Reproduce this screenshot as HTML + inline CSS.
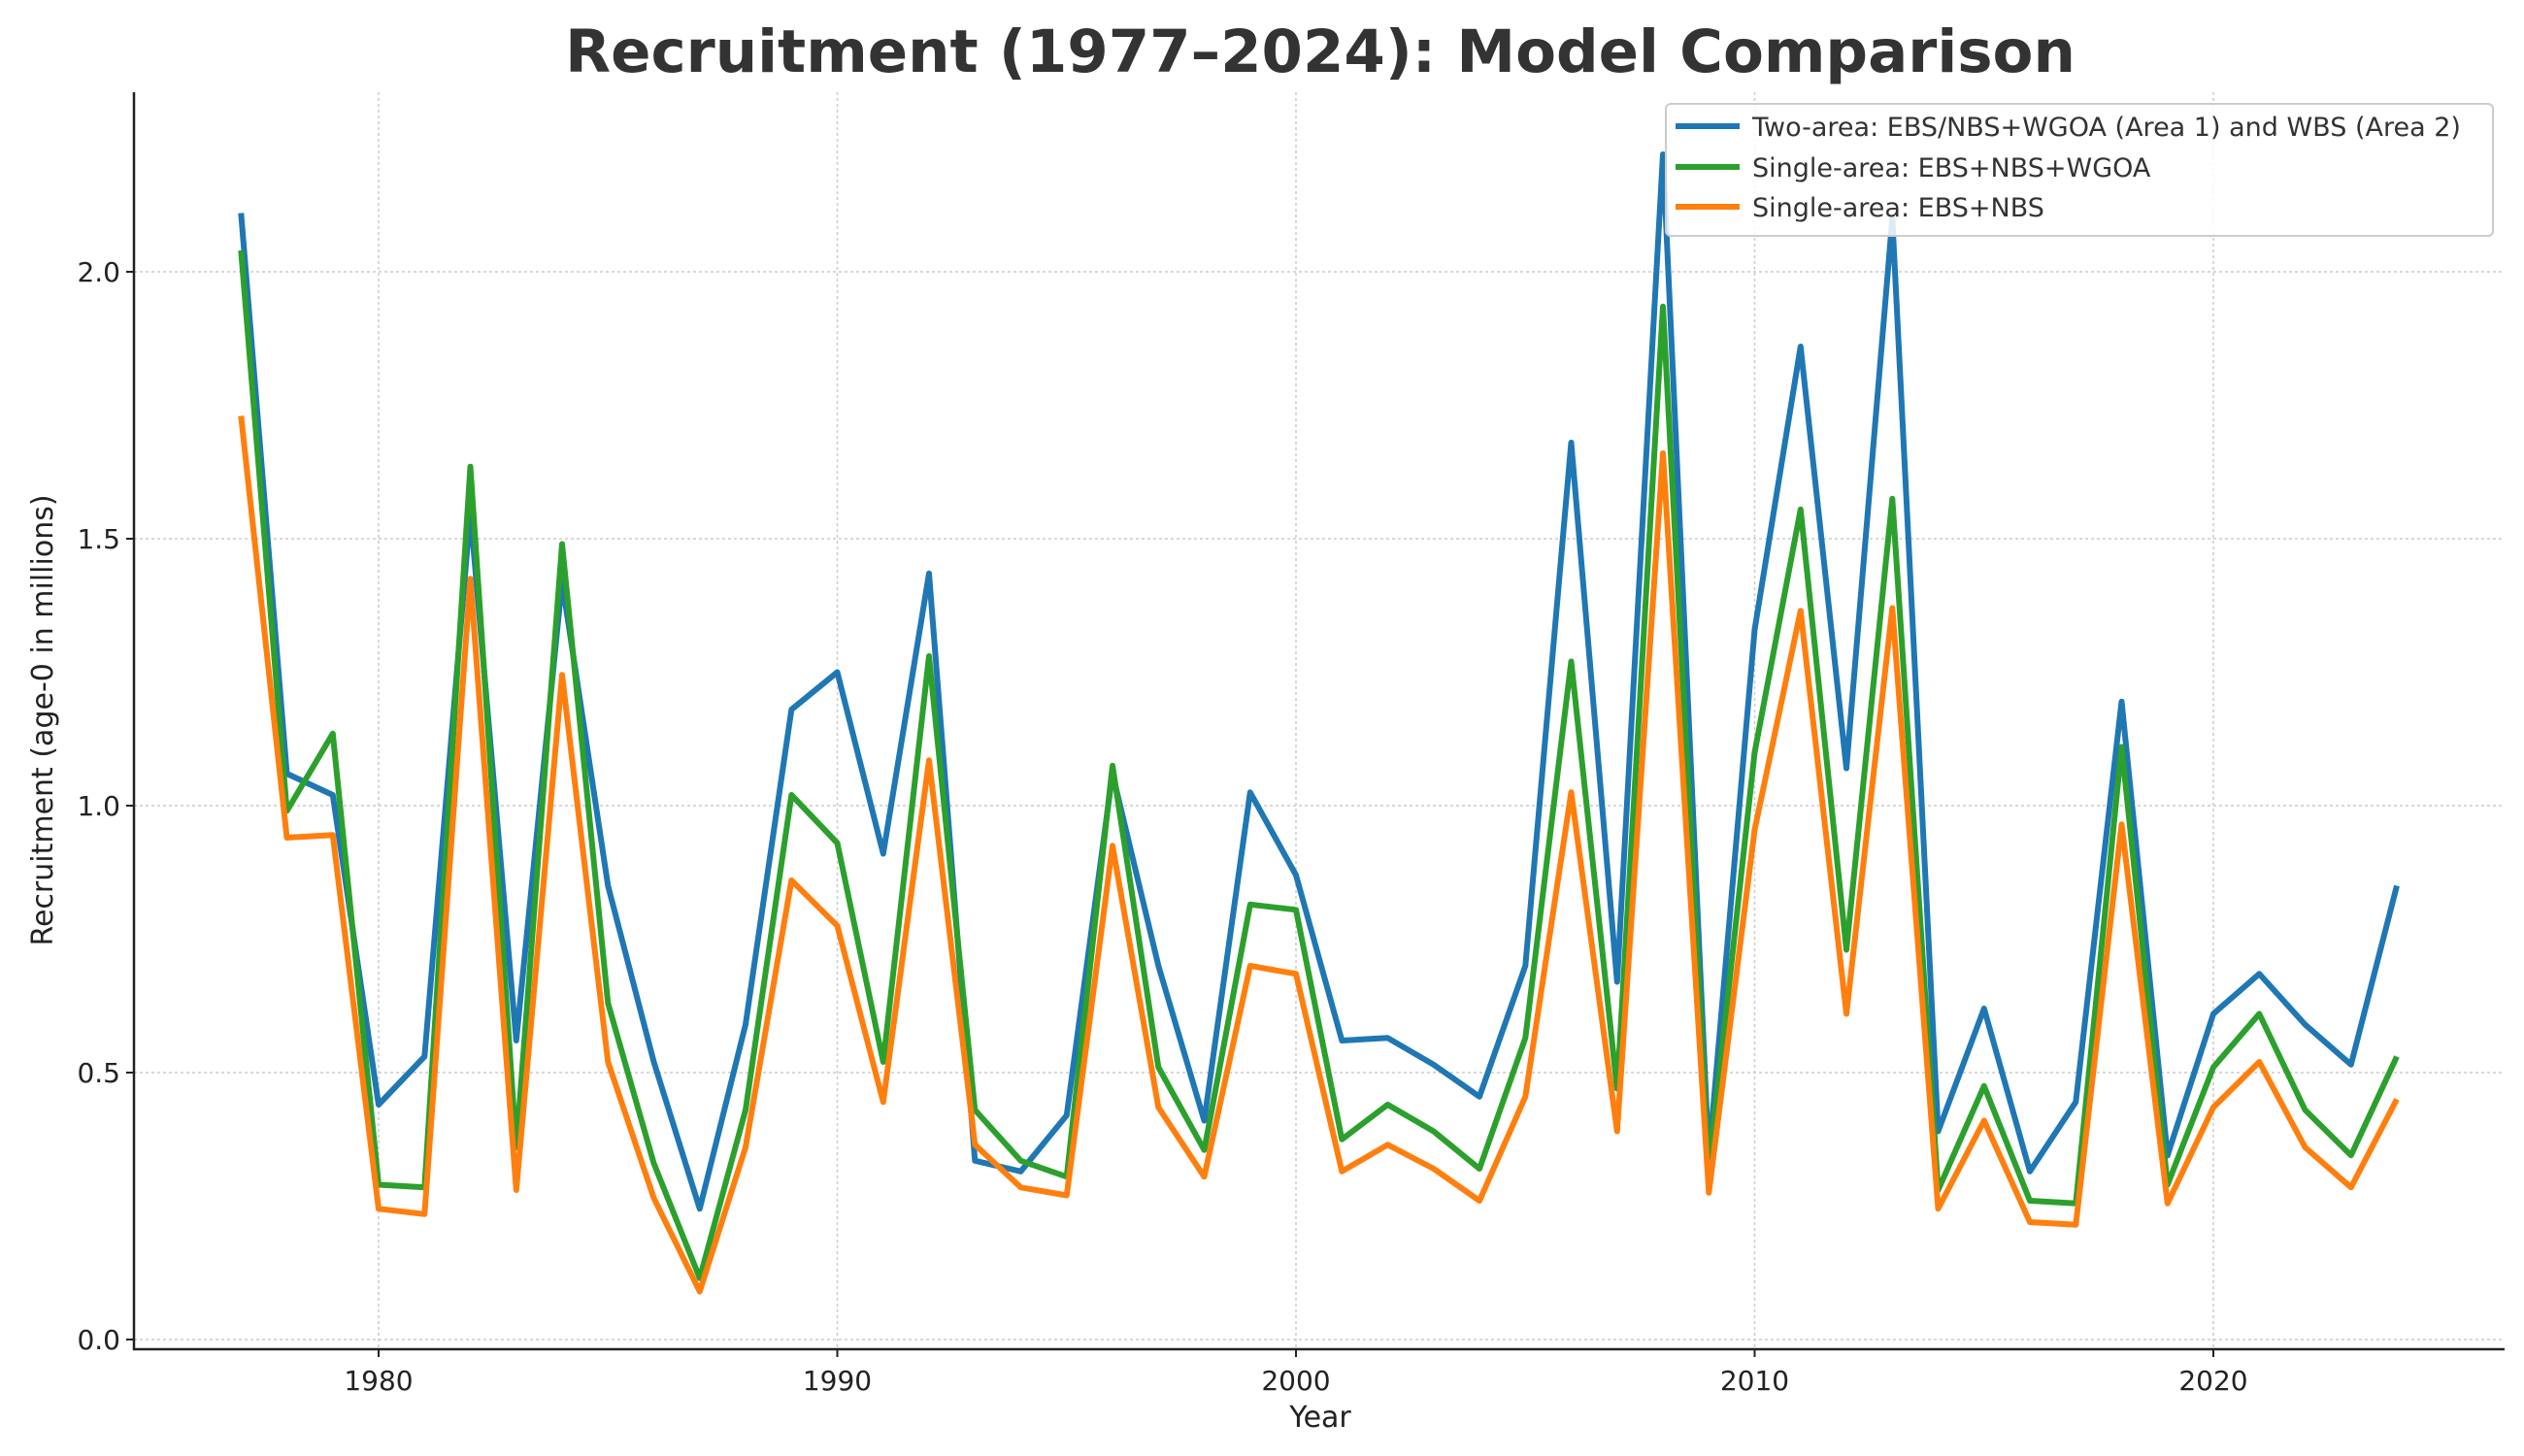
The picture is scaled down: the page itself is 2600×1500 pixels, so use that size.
<!DOCTYPE html>
<html><head><meta charset="utf-8"><style>
body{margin:0;background:#fff;}
svg{display:block;font-family:"DejaVu Sans","Liberation Sans",sans-serif;}
</style></head><body>
<svg id="chart" width="2600" height="1500" viewBox="0 0 2600 1500">
<rect width="2600" height="1500" fill="#fff"/>
<text x="1360" y="74" text-anchor="middle" font-size="61" font-weight="bold" fill="#333">Recruitment (1977–2024): Model Comparison</text>
<g id="grid"></g>
<g id="series"></g>
<g id="axes"></g>
<text x="1360" y="1470" text-anchor="middle" font-size="30" fill="#222">Year</text>
<text transform="translate(54,742) rotate(-90)" text-anchor="middle" font-size="30" fill="#222">Recruitment (age-0 in millions)</text>
<g>
<rect x="1716" y="107" width="852" height="136" rx="5" fill="#fff" fill-opacity="0.85" stroke="#ccc" stroke-width="2"/>
<line x1="1726" y1="130" x2="1792" y2="130" stroke="#1f77b4" stroke-width="6"/>
<text x="1805" y="140" font-size="27" fill="#333">Two-area: EBS/NBS+WGOA (Area 1) and WBS (Area 2)</text>
<line x1="1726" y1="172" x2="1792" y2="172" stroke="#2ca02c" stroke-width="6"/>
<text x="1805" y="182" font-size="27" fill="#333">Single-area: EBS+NBS+WGOA</text>
<line x1="1726" y1="213" x2="1792" y2="213" stroke="#ff7f0e" stroke-width="6"/>
<text x="1805" y="223" font-size="27" fill="#333">Single-area: EBS+NBS</text>
</g>
</svg>
<script>
const years = [];
for (let y = 1977; y <= 2024; y++) years.push(y);
const twoArea = [2.11,1.06,1.02,0.44,0.53,1.55,0.56,1.42,0.85,0.52,0.245,0.59,1.18,1.25,0.91,1.435,0.335,0.315,0.42,1.06,0.70,0.41,1.025,0.87,0.56,0.565,0.515,0.455,0.70,1.68,0.67,2.22,0.34,1.33,1.86,1.07,2.10,0.39,0.62,0.315,0.445,1.195,0.345,0.61,0.685,0.59,0.515,0.85];
const singleWgoa = [2.04,0.99,1.135,0.29,0.285,1.635,0.36,1.49,0.63,0.33,0.115,0.43,1.02,0.93,0.52,1.28,0.43,0.335,0.305,1.075,0.51,0.355,0.815,0.805,0.375,0.44,0.39,0.32,0.565,1.27,0.47,1.935,0.32,1.10,1.555,0.73,1.575,0.28,0.475,0.26,0.255,1.11,0.29,0.51,0.61,0.43,0.345,0.53];
const singleEbsNbs = [1.73,0.94,0.945,0.245,0.235,1.425,0.28,1.245,0.52,0.265,0.09,0.36,0.86,0.775,0.445,1.085,0.365,0.285,0.27,0.925,0.435,0.305,0.70,0.685,0.315,0.365,0.32,0.26,0.455,1.025,0.39,1.66,0.275,0.955,1.365,0.61,1.37,0.245,0.41,0.22,0.215,0.965,0.255,0.435,0.52,0.36,0.285,0.45];
const xTicks = [1980,1990,2000,2010,2020];
const yTicks = [0.0,0.5,1.0,1.5,2.0];
const yTickLabels = ["0.0","0.5","1.0","1.5","2.0"];

const L=138,R=2580,T=95,B=1390;
const xs = v => 390 + (v-1980)*47.25;
const ys = v => 1380 - v*550;
const NS="http://www.w3.org/2000/svg";
function mk(tag, attrs, parent){const e=document.createElementNS(NS,tag);for(const k in attrs)e.setAttribute(k,attrs[k]);parent.appendChild(e);return e;}
const grid=document.getElementById('grid'), axes=document.getElementById('axes'), ser=document.getElementById('series');
xTicks.forEach(t=>{
  const g=mk('line',{x1:xs(t),x2:xs(t),y1:T,y2:B,stroke:'#ccc','stroke-width':1.5,'stroke-dasharray':'3,3'},grid);
  
  
  mk('line',{x1:xs(t),x2:xs(t),y1:B,y2:B+8,stroke:'#222','stroke-width':2},axes);
  const tx=mk('text',{x:xs(t),y:B+42,'text-anchor':'middle','font-size':28,fill:'#222'},axes);
  tx.textContent=t;
  
  
});
yTicks.forEach((t,i)=>{
  const g=mk('line',{x1:L,x2:R,y1:ys(t),y2:ys(t),stroke:'#ccc','stroke-width':1.5,'stroke-dasharray':'3,3'},grid);
  
  
  mk('line',{x1:L-8,x2:L,y1:ys(t),y2:ys(t),stroke:'#222','stroke-width':2},axes);
  const tx=mk('text',{x:L-14,y:ys(t)+10,'text-anchor':'end','font-size':28,fill:'#222'},axes);
  tx.textContent=yTickLabels[i];
  
  
});
const ax=mk('path',{d:`M${L},${T} L${L},${B} L${R},${B}`,fill:'none',stroke:'#222','stroke-width':2.5},axes);


function drawLine(vals,color,name){
  const d=vals.map((v,i)=>(i?'L':'M')+xs(years[i]).toFixed(1)+','+ys(v).toFixed(1)).join(' ');
  const p=mk('path',{d:d,fill:'none',stroke:color,'stroke-width':6,'stroke-linejoin':'round'},ser);
  
  
}
drawLine(twoArea,'#1f77b4','two-area-line');
drawLine(singleWgoa,'#2ca02c','single-area-wgoa-line');
drawLine(singleEbsNbs,'#ff7f0e','single-area-ebs-nbs-line');
</script>
</body></html>
